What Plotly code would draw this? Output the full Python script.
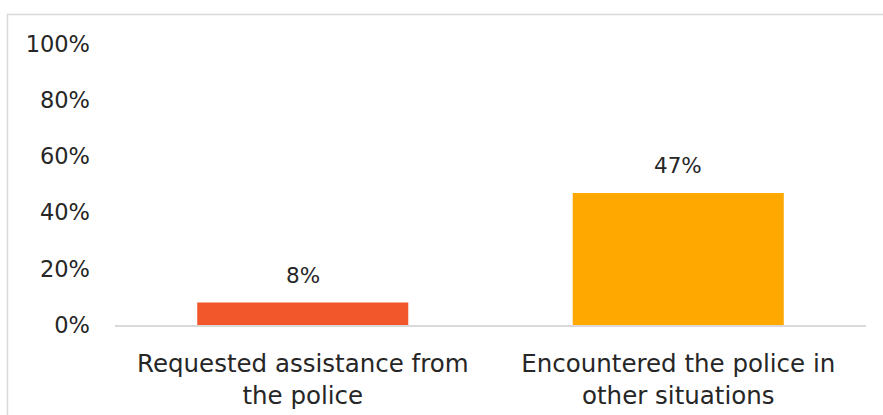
import plotly.graph_objects as go

# Share of respondents by type of police contact
categories = ["Requested assistance from<br>the police",
              "Encountered the police in<br>other situations"]
shares = [0.08, 0.47]
bar_colors = ["#F2572B", "#FFA800"]
y_ticks = [0, 0.2, 0.4, 0.6, 0.8, 1.0]

TEXT = "#262626"
FONT = "DejaVu Sans"

fig = go.Figure(
    go.Bar(
        x=categories,
        y=shares,
        marker=dict(color=bar_colors, line=dict(width=0)),
        width=0.562,
        hoverinfo="skip",
    )
)

# value labels above each bar
for cat, val in zip(categories, shares):
    fig.add_annotation(
        x=cat, y=val, text=f"{val:.0%}", showarrow=False,
        yanchor="middle", yshift=27,
        font=dict(family=FONT, size=21.5, color=TEXT),
    )

W, H = 883, 415
ml, mr, mt, mb = 115, 17, 44, 90
pw, ph = W - ml - mr, H - mt - mb

# light frame around the chart
fx0 = (7.5 - ml) / pw
fy1 = (H - mb - 14.5) / ph
fig.add_shape(type="path", xref="paper", yref="paper",
              path=f"M {fx0},-1 L {fx0},{fy1} L 1.2,{fy1}",
              line=dict(color="#D9D9D9", width=1.5), layer="below")

fig.update_layout(
    width=W, height=H,
    margin=dict(l=ml, r=mr, t=mt, b=mb, autoexpand=False),
    plot_bgcolor="white", paper_bgcolor="white",
    showlegend=False,
    font=dict(family=FONT, size=22, color=TEXT),
    bargap=0.438,
)
fig.update_xaxes(
    automargin=False,
    showgrid=False, showline=True, linecolor="#D9D9D9", linewidth=1.5,
    ticks="", tickfont=dict(family=FONT, size=24.5, color=TEXT),
    ticklabelstandoff=16,
)
fig.update_yaxes(
    automargin=False,
    range=[0, 1], tickvals=y_ticks, tickformat=".0%",
    showgrid=False, zeroline=False, showline=False, ticks="",
    tickfont=dict(family=FONT, size=22.5, color=TEXT),
    ticklabelstandoff=24,
)

fig.write_html("out.html")
